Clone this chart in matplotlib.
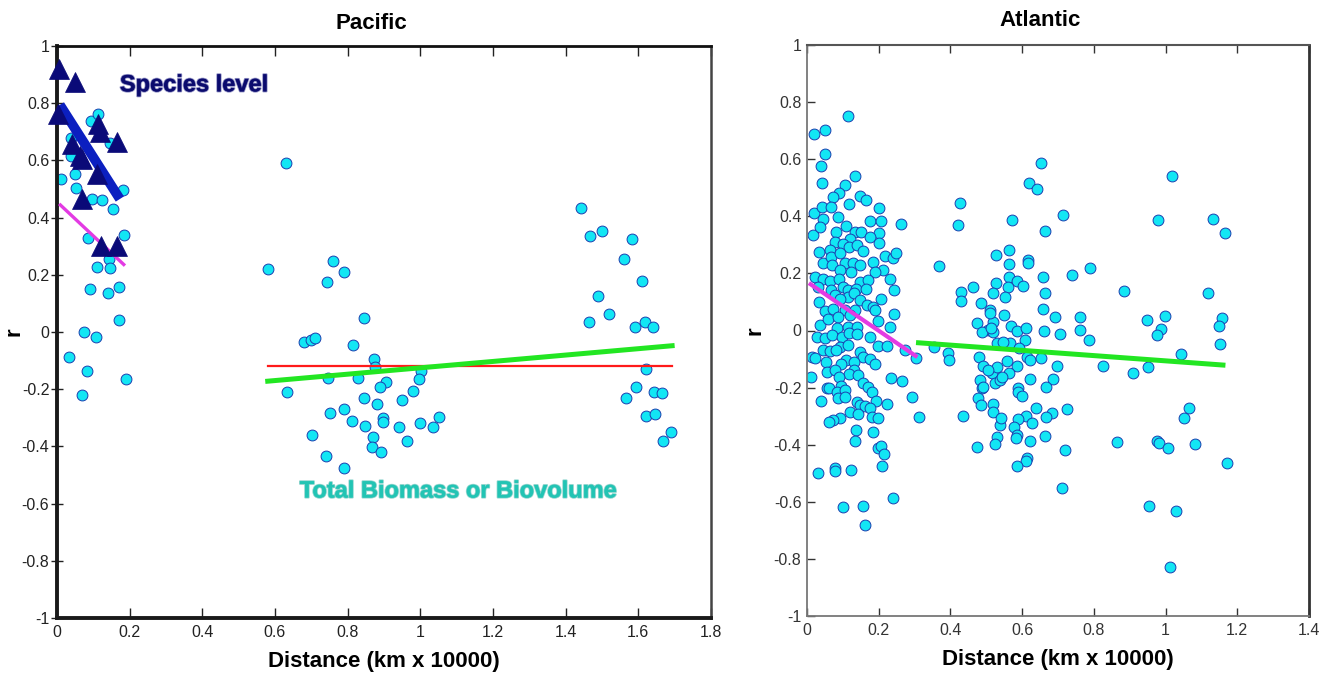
import matplotlib
matplotlib.use("Agg")
import matplotlib.pyplot as plt
import matplotlib.patheffects as pe

plt.rcParams['font.family'] = ['Liberation Sans', 'DejaVu Sans']

# ---------------- Pacific data ----------------
pac_dist = [0.011, 0.049, 0.052, 0.038, 0.038, 0.093, 0.112, 0.095, 0.123, 0.154, 0.182, 0.086, 0.184,
            0.143, 0.110, 0.146, 0.091, 0.139, 0.170, 0.171, 0.074, 0.107, 0.034, 0.082, 0.189, 0.070, 0.146,
            0.631, 0.580, 0.759, 0.789, 0.744, 0.844, 0.681, 0.700, 0.709, 0.814, 0.873, 0.876, 0.633, 0.745,
            0.829, 1.002, 0.995, 0.906, 0.889, 0.979, 0.846, 0.950, 0.881, 0.791, 0.750, 0.812, 0.898, 0.896,
            0.849, 0.942, 0.998, 1.052, 1.034, 0.701, 0.869, 0.963, 0.867, 0.892, 0.741, 0.791,
            1.441, 1.466, 1.499, 1.583, 1.560, 1.610, 1.490, 1.519, 1.464, 1.591, 1.618, 1.641, 1.620, 1.594,
            1.567, 1.643, 1.666, 1.622, 1.647, 1.668, 1.691]
pac_r = [0.535, 0.552, 0.503, 0.616, 0.680, 0.737, 0.762, 0.465, 0.462, 0.430, 0.497, 0.330, 0.340,
         0.255, 0.227, 0.225, 0.150, 0.135, 0.157, 0.042, -0.001, -0.018, -0.086, -0.135, -0.164, -0.219, 0.660,
         0.590, 0.220, 0.249, 0.211, 0.174, 0.048, -0.036, -0.027, -0.021, -0.045, -0.094, -0.124, -0.209, -0.162,
         -0.162, -0.137, -0.164, -0.176, -0.191, -0.205, -0.232, -0.237, -0.252, -0.269, -0.284, -0.310, -0.302, -0.316,
         -0.328, -0.331, -0.318, -0.296, -0.333, -0.360, -0.366, -0.380, -0.401, -0.421, -0.432, -0.476,
         0.434, 0.336, 0.353, 0.325, 0.255, 0.178, 0.125, 0.062, 0.034, 0.017, 0.034, 0.019, -0.129, -0.193,
         -0.232, -0.209, -0.214, -0.293, -0.287, -0.380, -0.351]

species_dist = [0.006, 0.049, 0.004, 0.040, 0.063, 0.068, 0.113, 0.118, 0.166, 0.109, 0.068, 0.120, 0.166]
species_r = [0.920, 0.873, 0.762, 0.657, 0.616, 0.605, 0.727, 0.699, 0.663, 0.552, 0.465, 0.302, 0.302]

species_fit_x = [0.008, 0.173]
species_fit_y = [0.794, 0.465]
pac_pink_x = [0.006, 0.187]
pac_pink_y = [0.448, 0.232]
pac_red_x = [0.58, 1.693]
pac_red_y = [-0.118, -0.118]
pac_green_x = [0.58, 1.693]
pac_green_y = [-0.172, -0.048]

# ---------------- Atlantic data ----------------
atl_dist = [
    0.115, 0.020, 0.050, 0.050, 0.039, 0.043, 0.134, 0.106, 0.089, 0.072, 0.148, 0.165, 0.118, 0.020, 0.018,
    0.043, 0.066, 0.046, 0.036, 0.087, 0.200, 0.176, 0.206, 0.109, 0.081, 0.134, 0.150, 0.202, 0.261, 0.120,
    0.176, 0.202, 0.078, 0.100, 0.118, 0.140, 0.034, 0.064, 0.044, 0.066, 0.092, 0.157, 0.218, 0.239, 0.248,
    0.183, 0.106, 0.128, 0.148, 0.069, 0.092, 0.122, 0.213, 0.190, 0.232, 0.022, 0.044, 0.064, 0.090, 0.148,
    0.171, 0.101, 0.032, 0.066, 0.115, 0.138, 0.165, 0.243, 0.078, 0.113, 0.132, 0.205, 0.034, 0.092, 0.148,
    0.166, 0.183, 0.190, 0.050, 0.073, 0.106, 0.134, 0.244, 0.036, 0.059, 0.087, 0.120, 0.199, 0.083, 0.113,
    0.139, 0.232, 0.027, 0.050, 0.069, 0.097, 0.118, 0.139, 0.176, 0.092, 0.115, 0.199, 0.222, 0.044, 0.064,
    0.081, 0.148, 0.273, 0.013, 0.022, 0.155, 0.176, 0.109, 0.132, 0.304, 0.053, 0.190, 0.095, 0.055, 0.078,
    0.132, 0.118, 0.143, 0.010, 0.233, 0.264, 0.055, 0.090, 0.095, 0.157, 0.171, 0.180, 0.060, 0.083, 0.106,
    0.087, 0.039, 0.106, 0.139, 0.193, 0.222, 0.292, 0.148, 0.162, 0.176, 0.120, 0.143, 0.180, 0.199, 0.311,
    0.092, 0.073, 0.061, 0.137, 0.183, 0.134, 0.199, 0.206, 0.215, 0.208, 0.032, 0.078, 0.078, 0.122, 0.241,
    0.100, 0.155, 0.162,
    0.368, 0.353, 0.392, 0.396, 0.427, 0.422, 0.430, 0.430, 0.464, 0.434, 0.475, 0.474, 0.485, 0.481, 0.490,
    0.483, 0.487, 0.478, 0.484, 0.526, 0.526, 0.520, 0.510, 0.520, 0.506, 0.518, 0.515, 0.531, 0.524, 0.520,
    0.520, 0.537, 0.531, 0.524, 0.540, 0.510, 0.487, 0.513, 0.529, 0.506, 0.538, 0.492,
    0.653, 0.620, 0.641, 0.573, 0.715, 0.664, 0.564, 0.615, 0.617, 0.564, 0.789, 0.738, 0.657, 0.564, 0.585,
    0.602, 0.560, 0.664, 0.553, 0.659, 0.692, 0.762, 0.550, 0.568, 0.585, 0.611, 0.661, 0.706, 0.762, 0.786,
    0.608, 0.566, 0.546, 0.590, 0.613, 0.622, 0.653, 0.559, 0.585, 0.696, 0.562, 0.543, 0.622, 0.686, 0.667,
    0.589, 0.588, 0.600, 0.639, 0.611, 0.682, 0.667, 0.724, 0.588, 0.627, 0.576, 0.664, 0.585, 0.582, 0.622,
    0.720, 0.613, 0.611, 0.585, 0.711,
    1.017, 0.980, 1.133, 1.166, 0.885, 1.119, 0.947, 0.999, 0.986, 0.975, 1.158, 1.149, 1.152, 1.042, 0.826,
    0.910, 0.952, 1.066, 1.052, 0.864, 0.977, 0.982, 1.006, 1.082, 1.172, 0.954, 1.028, 1.012]
atl_r = [
    0.751, 0.687, 0.704, 0.618, 0.576, 0.518, 0.541, 0.509, 0.480, 0.468, 0.471, 0.457, 0.443, 0.412, 0.334,
    0.433, 0.431, 0.392, 0.363, 0.398, 0.429, 0.384, 0.384, 0.367, 0.346, 0.346, 0.346, 0.340, 0.373, 0.322,
    0.328, 0.305, 0.311, 0.303, 0.294, 0.299, 0.276, 0.282, 0.235, 0.258, 0.270, 0.279, 0.262, 0.253, 0.273,
    0.241, 0.237, 0.235, 0.231, 0.229, 0.212, 0.205, 0.212, 0.206, 0.182, 0.188, 0.182, 0.174, 0.182, 0.171,
    0.176, 0.153, 0.153, 0.141, 0.141, 0.147, 0.144, 0.141, 0.124, 0.118, 0.130, 0.109, 0.100, 0.112, 0.106,
    0.089, 0.081, 0.072, 0.069, 0.077, 0.072, 0.072, 0.058, 0.019, 0.042, 0.048, 0.054, 0.034, 0.008, 0.013,
    0.011, 0.011, -0.024, -0.028, -0.016, -0.022, -0.008, -0.011, -0.024, -0.057, -0.051, -0.055, -0.055, -0.067, -0.072,
    -0.069, -0.075, -0.069, -0.092, -0.098, -0.092, -0.101, -0.104, -0.110, -0.096, -0.110, -0.118, -0.118, -0.145, -0.139,
    -0.137, -0.151, -0.156, -0.164, -0.166, -0.176, -0.200, -0.162, -0.193, -0.185, -0.197, -0.214, -0.203, -0.215, -0.209,
    -0.238, -0.246, -0.234, -0.249, -0.246, -0.257, -0.234, -0.261, -0.265, -0.273, -0.287, -0.293, -0.302, -0.308, -0.304,
    -0.308, -0.313, -0.319, -0.349, -0.354, -0.386, -0.413, -0.405, -0.431, -0.475, -0.498, -0.483, -0.491, -0.489, -0.585,
    -0.617, -0.615, -0.682,
    0.226, -0.059, -0.080, -0.104, 0.445, 0.369, 0.136, 0.104, 0.154, -0.299, -0.407, 0.025, 0.095, -0.092, -0.125,
    -0.174, -0.203, -0.238, -0.261, 0.264, 0.165, 0.130, 0.072, 0.031, 0.002, -0.004, -0.150, -0.127, -0.185, -0.257,
    -0.285, -0.331, -0.372, -0.396, -0.308, 0.060, -0.007, 0.008, -0.045, -0.138, -0.173, -0.197,
    0.588, 0.515, 0.496, 0.387, 0.405, 0.350, 0.282, 0.247, 0.238, 0.232, 0.218, 0.194, 0.186, 0.189, 0.175,
    0.157, 0.154, 0.132, 0.119, 0.077, 0.048, 0.048, 0.054, 0.016, -0.001, 0.010, -0.001, -0.013, 0.002, -0.033,
    -0.033, -0.045, -0.039, -0.062, -0.092, -0.103, -0.097, -0.106, -0.124, -0.123, -0.150, -0.164, -0.170, -0.171, -0.197,
    -0.203, -0.214, -0.229, -0.273, -0.298, -0.290, -0.302, -0.276, -0.311, -0.323, -0.339, -0.370, -0.366, -0.377, -0.387,
    -0.418, -0.448, -0.456, -0.473, -0.553,
    0.541, 0.387, 0.390, 0.340, 0.140, 0.130, 0.037, 0.052, 0.004, -0.016, 0.045, 0.017, -0.048, -0.082, -0.124,
    -0.150, -0.129, -0.273, -0.305, -0.392, -0.387, -0.393, -0.413, -0.397, -0.463, -0.613, -0.632, -0.827]

atl_pink_x = [0.010, 0.303]
atl_pink_y = [0.162, -0.089]
atl_green_x = [0.311, 1.16]
atl_green_y = [-0.043, -0.121]

yticks = [-1, -0.8, -0.6, -0.4, -0.2, 0, 0.2, 0.4, 0.6, 0.8, 1]
ytick_labels = ['-1', '-0.8', '-0.6', '-0.4', '-0.2', '0', '0.2', '0.4', '0.6', '0.8', '1']
pac_xticks = [0, 0.2, 0.4, 0.6, 0.8, 1, 1.2, 1.4, 1.6, 1.8]
pac_xtick_labels = ['0', '0.2', '0.4', '0.6', '0.8', '1', '1.2', '1.4', '1.6', '1.8']
atl_xticks = [0, 0.2, 0.4, 0.6, 0.8, 1, 1.2, 1.4]
atl_xtick_labels = ['0', '0.2', '0.4', '0.6', '0.8', '1', '1.2', '1.4']

CYAN = '#12e6f4'
EDGE = '#1b3fb0'

fig = plt.figure(figsize=(13.3, 6.76), dpi=100)

# ---------------- Pacific panel ----------------
ax1 = fig.add_axes([57 / 1330, 58 / 676, 654 / 1330, 572 / 676])
ax1.set_xlim(0, 1.8)
ax1.set_ylim(-1, 1)
ax1.plot(pac_dist, pac_r, 'o', ms=7.8, mfc=CYAN, mec=EDGE, mew=0.7, zorder=2)
ax1.plot(pac_pink_x, pac_pink_y, '-', color='#e33be3', lw=2.4, zorder=3, solid_capstyle='butt')
ax1.plot(pac_red_x, pac_red_y, '-', color='#ff1a1a', lw=1.6, zorder=3)
ax1.plot(pac_green_x, pac_green_y, '-', color='#22e622', lw=3.6, zorder=3.5)
ax1.plot(species_fit_x, species_fit_y, '-', color='#0b1fc0', lw=7, zorder=3.6, solid_capstyle='butt')
ax1.plot(species_dist, species_r, '^', ms=15, mfc='#0a0a78', mec='#0a0a78', mew=0.5, zorder=4,
         clip_on=False)

ax1.set_xticks(pac_xticks)
ax1.set_xticklabels(pac_xtick_labels)
ax1.set_yticks(yticks)
ax1.set_yticklabels(ytick_labels)
ax1.tick_params(axis='y', direction='inout', length=9, width=1, labelsize=11.5, pad=1, colors='#222222')
ax1.tick_params(axis='x', direction='in', length=7, width=1, labelsize=11.5, pad=5,
                top=True, colors='#222222')
for side, lw, col in [('left', 2.8, '#1a1a1a'), ('bottom', 2.8, '#1a1a1a'),
                      ('top', 2.0, '#111111'), ('right', 1.8, '#444444')]:
    ax1.spines[side].set_linewidth(lw)
    ax1.spines[side].set_color(col)

ax1.text(0.480, 1.04, 'Pacific', transform=ax1.transAxes, ha='center', va='center',
         fontsize=16, fontweight='bold')
ax1.set_xlabel('Distance (km x 10000)', fontsize=16, fontweight='bold', labelpad=8)
ax1.set_ylabel('r', fontsize=16, fontweight='bold')
ax1.yaxis.set_label_coords(-0.050, 0.5)

ax1.text(0.173, 0.864, 'Species level', color='#0b0b6e', fontsize=17, fontweight='bold',
         va='center', ha='left',
         path_effects=[pe.withStroke(linewidth=1.4, foreground='#8a8ac0'), pe.Normal()])
ax1.text(0.668, -0.556, 'Total Biomass or Biovolume', color='#22c4b4', fontsize=17, fontweight='bold',
         va='center', ha='left',
         path_effects=[pe.withStroke(linewidth=1.4, foreground='#8ad4cc'), pe.Normal()])

# ---------------- Atlantic panel ----------------
ax2 = fig.add_axes([807 / 1330, 60 / 676, 502 / 1330, 571 / 676])
ax2.set_xlim(0, 1.4)
ax2.set_ylim(-1, 1)
ax2.plot(atl_dist, atl_r, 'o', ms=7.8, mfc=CYAN, mec=EDGE, mew=0.7, zorder=2)
ax2.plot(atl_pink_x, atl_pink_y, '-', color='#e33be3', lw=3.0, zorder=3)
ax2.plot(atl_green_x, atl_green_y, '-', color='#22e622', lw=3.6, zorder=3)

ax2.set_xticks(atl_xticks)
ax2.set_xticklabels(atl_xtick_labels)
ax2.set_yticks(yticks)
ax2.set_yticklabels(ytick_labels)
ax2.tick_params(axis='y', direction='in', length=6, width=1, labelsize=11.5, pad=4, colors='#333333')
ax2.tick_params(axis='x', direction='in', length=6, width=1, labelsize=11.5, pad=5,
                top=True, colors='#333333')
for side, lw, col in [('left', 1.3, '#777777'), ('bottom', 1.3, '#777777'),
                      ('top', 1.5, '#555555'), ('right', 2.0, '#333333')]:
    ax2.spines[side].set_linewidth(lw)
    ax2.spines[side].set_color(col)

ax2.text(0.464, 1.043, 'Atlantic', transform=ax2.transAxes, ha='center', va='center',
         fontsize=16, fontweight='bold')
ax2.set_xlabel('Distance (km x 10000)', fontsize=16, fontweight='bold', labelpad=8)
ax2.set_ylabel('r', fontsize=16, fontweight='bold')
ax2.yaxis.set_label_coords(-0.082, 0.5)

fig.savefig('out.png', dpi=100)
